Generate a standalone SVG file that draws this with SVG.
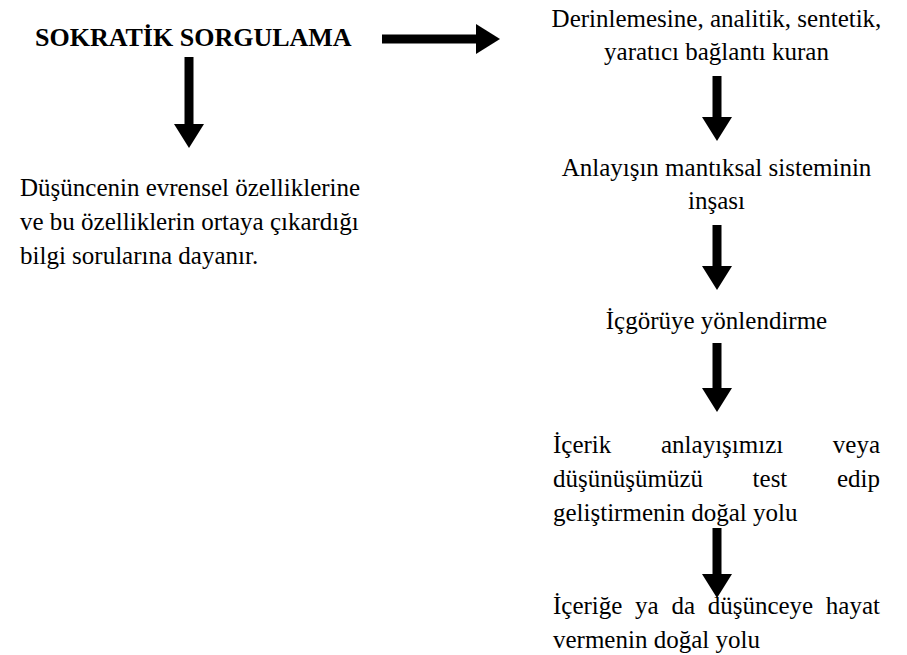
<svg xmlns="http://www.w3.org/2000/svg" width="907" height="655" viewBox="0 0 907 655">
  <style>
    text { font-family: 'Liberation Serif', 'Times New Roman', serif; font-size: 25px; fill: #000; }
    .c { text-anchor: middle; }
    .b { font-weight: bold; font-size: 26px; }
    .arrow { stroke: #000; stroke-width: 9; fill: none; marker-end: url(#head); }
  </style>
  <defs>
    <marker id="head" markerUnits="userSpaceOnUse" markerWidth="24" markerHeight="30" refX="0" refY="15" orient="auto" viewBox="0 0 24 30">
      <path d="M0,0 L24,15 L0,30 Z" fill="#000"/>
    </marker>
  </defs>
  <rect width="907" height="655" fill="#fff"/>

  <g id="connectors">
    <line class="arrow" x1="382" y1="39" x2="476" y2="39"/>
    <line class="arrow" x1="189" y1="57" x2="189" y2="124"/>
    <line class="arrow" x1="717" y1="76" x2="717" y2="117"/>
    <line class="arrow" x1="717" y1="225" x2="717" y2="266"/>
    <line class="arrow" x1="717" y1="343" x2="717" y2="388"/>
    <line class="arrow" x1="717" y1="528" x2="717" y2="574"/>
  </g>

  <g id="node-title">
    <text class="b" x="35" y="46">SOKRATİK SORGULAMA</text>
  </g>

  <g id="node-left">
    <text x="20" y="196">Düşüncenin evrensel özelliklerine</text>
    <text x="20" y="230">ve bu özelliklerin ortaya çıkardığı</text>
    <text x="20" y="264">bilgi sorularına dayanır.</text>
  </g>

  <g id="node-derinlemesine">
    <text class="c" x="716.5" y="27">Derinlemesine, analitik, sentetik,</text>
    <text class="c" x="716.5" y="60">yaratıcı bağlantı kuran</text>
  </g>

  <g id="node-anlayis">
    <text class="c" x="716.5" y="176">Anlayışın mantıksal sisteminin</text>
    <text class="c" x="716.5" y="209">inşası</text>
  </g>

  <g id="node-icgoru">
    <text class="c" x="716.5" y="329">İçgörüye yönlendirme</text>
  </g>

  <g id="node-icerik">
    <text y="453"><tspan x="553">İçerik</tspan><tspan x="661">anlayışımızı</tspan><tspan x="880" text-anchor="end">veya</tspan></text>
    <text y="487"><tspan x="553">düşünüşümüzü</tspan><tspan x="752.6">test</tspan><tspan x="880" text-anchor="end">edip</tspan></text>
    <text x="553" y="521">geliştirmenin doğal yolu</text>
  </g>

  <g id="node-hayat">
    <text y="614"><tspan x="553">İçeriğe</tspan><tspan x="635">ya</tspan><tspan x="671.4">da</tspan><tspan x="707.7">düşünceye</tspan><tspan x="880" text-anchor="end">hayat</tspan></text>
    <text x="553" y="648">vermenin doğal yolu</text>
  </g>
</svg>
